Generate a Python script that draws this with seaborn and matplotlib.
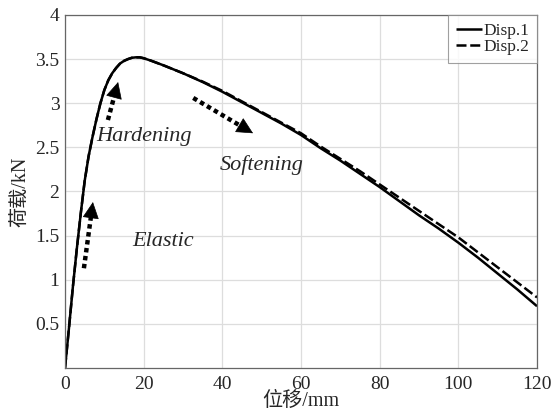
import matplotlib
matplotlib.use("Agg")
import matplotlib.pyplot as plt
import seaborn as sns
import pandas as pd

disp = [0, 1, 2, 3, 4, 5, 6, 7, 8, 9, 10, 11, 12, 13, 14, 15, 16, 17, 18, 19, 20,
        22, 25, 30, 35, 40, 45, 50, 55, 60, 65, 70, 75, 80, 85, 90, 95, 100, 105, 110, 115, 120]
load1 = [0.0, 0.45, 0.92, 1.35, 1.75, 2.12, 2.40, 2.62, 2.82, 3.00, 3.15, 3.26, 3.34, 3.40, 3.45, 3.48,
         3.50, 3.515, 3.52, 3.52, 3.51, 3.48, 3.43, 3.34, 3.24, 3.13, 3.01, 2.89, 2.77, 2.64, 2.49,
         2.35, 2.20, 2.05, 1.89, 1.73, 1.58, 1.42, 1.25, 1.07, 0.89, 0.70]
load2 = [0.0, 0.45, 0.92, 1.35, 1.75, 2.12, 2.40, 2.62, 2.82, 3.00, 3.15, 3.26, 3.34, 3.40, 3.45, 3.48,
         3.50, 3.515, 3.52, 3.52, 3.51, 3.48, 3.43, 3.34, 3.245, 3.14, 3.02, 2.90, 2.78, 2.66, 2.51,
         2.37, 2.23, 2.08, 1.93, 1.78, 1.63, 1.48, 1.31, 1.14, 0.97, 0.80]
series_names = ["Disp.1", "Disp.2"]
x_ticks = [0, 20, 40, 60, 80, 100, 120]
y_ticks = [0.5, 1, 1.5, 2, 2.5, 3, 3.5, 4]
y_tick_labels = ["0.5", "1", "1.5", "2", "2.5", "3", "3.5", "4"]

df = pd.DataFrame({
    "disp": disp + disp,
    "load": load1 + load2,
    "series": [series_names[0]] * len(disp) + [series_names[1]] * len(disp),
})

sns.set_theme(style="whitegrid")
plt.rcParams["font.family"] = ["Liberation Serif", "Noto Sans CJK SC"]
plt.rcParams["axes.unicode_minus"] = False

fig = plt.figure(figsize=(5.51, 4.15), dpi=100)
ax = fig.add_axes([0.118, 0.1133, 0.8566, 0.8506])

sns.lineplot(data=df, x="disp", y="load", hue="series", style="series",
             palette=["black", "black"], dashes=[(1, 0), (4, 1.5)],
             linewidth=1.8, ax=ax, legend=True, sort=False)

ax.set_xlim(0, 120)
ax.set_ylim(0, 4)
ax.set_xticks(x_ticks)
ax.set_yticks(y_ticks)
ax.set_yticklabels(y_tick_labels)
ax.tick_params(labelsize=14, direction="in", length=3, color="#666666")
ax.tick_params(axis="x", pad=6)
ax.tick_params(axis="y", pad=4)
ax.grid(True, color="#dddddd", linewidth=0.9)
for s in ax.spines.values():
    s.set_color("#666666")
    s.set_linewidth(0.9)
ax.set_xlabel("位移/mm", fontsize=14.5, labelpad=-1)
ax.set_ylabel("荷载/kN", fontsize=14.5, labelpad=3)

leg = ax.legend(loc="upper right", fontsize=12.5, frameon=True, fancybox=False,
                borderaxespad=0, handlelength=1.5, handletextpad=0.1,
                borderpad=0.45, labelspacing=0.0)
leg.get_frame().set_edgecolor("#888888")
leg.get_frame().set_linewidth(0.8)

# Arrows (dotted shafts with solid heads)
arrows = [((4.8, 1.13), (7.1, 1.88)), ((10.9, 2.81), (13.5, 3.24)), ((32.6, 3.06), (47.8, 2.66))]
for (x0, y0), (x1, y1) in arrows:
    fx = x0 + (x1 - x0) * 0.8
    fy = y0 + (y1 - y0) * 0.8
    ax.plot([x0, fx], [y0, fy], color="black", linewidth=3.2, linestyle=(0, (1, 0.8)),
            solid_capstyle="butt", dash_capstyle="butt")
    ax.annotate("", xy=(x1, y1), xytext=(fx, fy),
                arrowprops=dict(arrowstyle="-|>,head_length=0.9,head_width=0.45",
                                color="black", lw=0.5, shrinkA=0, shrinkB=0))

ax.text(20.0, 2.62, "Hardening", fontsize=16, style="italic", ha="center", va="center")
ax.text(50.1, 2.30, "Softening", fontsize=16, style="italic", ha="center", va="center")
ax.text(24.9, 1.43, "Elastic", fontsize=16, style="italic", ha="center", va="center")

fig.savefig("out.png", dpi=100)
